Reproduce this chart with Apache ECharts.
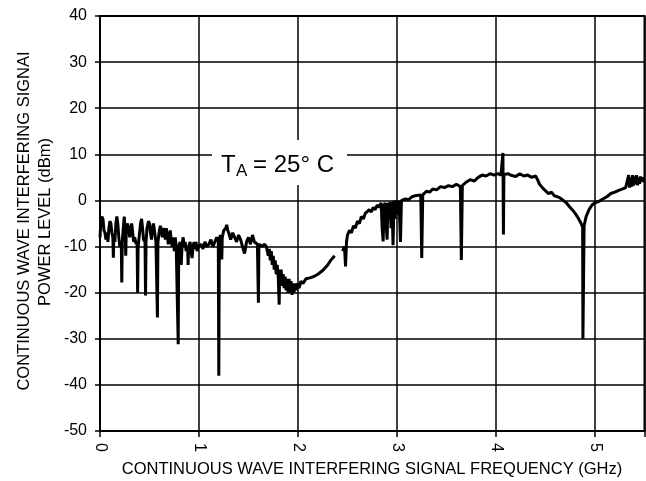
<!DOCTYPE html>
<html>
<head>
<meta charset="utf-8">
<script src="https://cdn.jsdelivr.net/npm/echarts@6/dist/echarts.min.js"></script>
<style>
html, body { margin: 0; padding: 0; background: #fff; }
#main { width: 646px; height: 481px; }
</style>
</head>
<body>
<div id="main"></div>
<script>
//坐标轴刻度
var xTicks = [0, 1, 2, 3, 4, 5];
var yTicks = [-50, -40, -30, -20, -10, 0, 10, 20, 30, 40];

//曲线数据 [GHz, dBm]
var seg1 = [[0, -8], [0.008, -5], [0.018, -3.5], [0.03, -4], [0.04, -6.5], [0.05, -7], [0.06, -8.5], [0.07, -7], [0.08, -9], [0.09, -6],
    [0.10, -4.5], [0.11, -5], [0.12, -7], [0.13, -8], [0.135, -12.4], [0.14, -8], [0.15, -9], [0.16, -5], [0.17, -3.5], [0.18, -5],
    [0.19, -8], [0.20, -10], [0.215, -9], [0.22, -17.8], [0.225, -9], [0.235, -6], [0.245, -3.5], [0.255, -7], [0.26, -12], [0.265, -7],
    [0.275, -5], [0.29, -6], [0.30, -8], [0.31, -6], [0.32, -5], [0.33, -7], [0.34, -9], [0.35, -8], [0.365, -9.5], [0.375, -9],
    [0.38, -20], [0.385, -10], [0.40, -7], [0.41, -5], [0.42, -4], [0.43, -6], [0.44, -8.5], [0.455, -9], [0.46, -20.6], [0.465, -9],
    [0.475, -6], [0.49, -4.5], [0.50, -5], [0.51, -7], [0.52, -8.5], [0.53, -6], [0.54, -5], [0.55, -6.5], [0.565, -9], [0.575, -9],
    [0.58, -25.4], [0.585, -9], [0.60, -6.5], [0.61, -5.5], [0.62, -6.5], [0.63, -8], [0.64, -6], [0.65, -7], [0.66, -8.5], [0.67, -6],
    [0.68, -7.5], [0.69, -9.5], [0.70, -8], [0.71, -6.5], [0.72, -9], [0.73, -10], [0.74, -8], [0.75, -11], [0.76, -8], [0.77, -10],
    [0.785, -10], [0.79, -31.2], [0.795, -10], [0.81, -9], [0.82, -14], [0.83, -9.5], [0.84, -8], [0.85, -10], [0.86, -9], [0.87, -11],
    [0.885, -10], [0.89, -14], [0.895, -10], [0.91, -9], [0.92, -11], [0.93, -12.5], [0.94, -10], [0.95, -9], [0.96, -10.5], [0.97, -9],
    [0.98, -11], [0.99, -10]];
var seg2 = [[1.00, -10], [1.02, -9.5], [1.04, -10.5], [1.06, -9], [1.08, -10], [1.10, -9.5], [1.12, -8.5], [1.14, -10], [1.16, -9], [1.18, -8],
    [1.195, -9], [1.20, -38], [1.205, -9], [1.215, -7.5], [1.225, -8], [1.23, -12.8], [1.235, -8], [1.25, -6.5], [1.27, -6], [1.28, -5.3],
    [1.29, -6.5], [1.30, -7], [1.32, -8.5], [1.34, -7], [1.36, -8], [1.38, -9], [1.40, -7.5], [1.42, -8.5], [1.44, -10], [1.46, -11.5],
    [1.48, -9], [1.50, -8], [1.52, -9.5], [1.54, -7.5], [1.56, -9], [1.59, -9.5], [1.60, -22.2], [1.605, -9.5], [1.62, -9.5], [1.64, -10],
    [1.66, -9.5], [1.68, -10], [1.70, -12], [1.71, -10.5], [1.72, -13], [1.73, -11], [1.74, -14], [1.75, -12], [1.76, -15], [1.77, -13],
    [1.78, -16], [1.79, -14], [1.80, -16.5], [1.81, -22.6], [1.815, -15], [1.82, -17.5], [1.83, -15], [1.84, -18.5], [1.85, -16], [1.86, -19],
    [1.87, -16.5], [1.88, -19.5], [1.89, -17], [1.90, -20], [1.91, -17], [1.92, -20], [1.93, -17.5], [1.94, -20.5], [1.95, -18], [1.96, -20],
    [1.97, -18], [1.98, -19.5], [1.99, -18], [2.01, -19], [2.03, -17.5], [2.05, -18], [2.08, -17], [2.12, -16.8], [2.16, -16.5], [2.20, -16],
    [2.25, -15.2], [2.30, -14], [2.33, -13], [2.37, -12]];
var seg3 = [[2.45, -11], [2.47, -10], [2.48, -14.3], [2.49, -9], [2.50, -7.5], [2.52, -6.5], [2.54, -7], [2.56, -5.5], [2.58, -6], [2.60, -4.5],
    [2.62, -5], [2.64, -3.5], [2.66, -4], [2.68, -2.8], [2.70, -3], [2.72, -2], [2.74, -2.5], [2.76, -1.5], [2.78, -2], [2.80, -1],
    [2.82, -1.5], [2.84, -0.5], [2.85, -6], [2.86, -8.9], [2.87, -1], [2.88, -0.5], [2.89, -5], [2.90, -8.5], [2.91, -0.5], [2.92, -4],
    [2.93, -0.3], [2.94, -6], [2.95, -0.3], [2.96, -9.7], [2.97, 0], [2.98, -4], [2.99, 0], [3.01, -3], [3.02, 0], [3.035, -9],
    [3.045, 0], [3.08, 0.3], [3.10, 0.5], [3.12, 0.2], [3.15, 0.8], [3.18, 1], [3.20, 0.8], [3.24, 1.2], [3.25, -12.5], [3.26, 1.2],
    [3.30, 2], [3.33, 1.8], [3.36, 2.5], [3.40, 2.3], [3.44, 3], [3.48, 2.8], [3.52, 3.2], [3.56, 3], [3.60, 3.5], [3.64, 3]];
var seg4 = [[3.65, -12.9], [3.66, 3.2], [3.70, 4], [3.74, 4.5], [3.78, 4.2], [3.82, 5], [3.86, 5.5], [3.90, 5.3], [3.94, 5.8], [3.98, 5.5],
    [4.02, 5.8], [4.05, 5.5], [4.07, 10.3], [4.075, -7.4], [4.08, 5.6], [4.12, 5.8], [4.16, 5.4], [4.20, 5.2], [4.24, 5.8], [4.28, 5.3],
    [4.32, 5.5], [4.36, 5], [4.40, 5.3], [4.42, 4.5], [4.44, 3.5], [4.46, 3], [4.48, 2.5], [4.50, 2.3], [4.53, 1.5], [4.56, 1.8],
    [4.59, 1], [4.62, 0.8], [4.65, 0.5], [4.68, 0], [4.71, -0.5], [4.74, -1.3], [4.77, -2], [4.80, -2.8], [4.83, -3.8], [4.86, -5],
    [4.875, -5.8], [4.878, -30], [4.886, -30], [4.89, -5.5], [4.91, -3.5], [4.94, -2], [4.97, -1], [5.00, -0.5], [5.04, -0.2], [5.08, 0.3],
    [5.12, 0.8], [5.16, 1.5], [5.20, 1.8], [5.24, 2.2], [5.28, 2.5], [5.31, 2.8], [5.33, 3], [5.34, 5.5], [5.35, 2.8], [5.36, 5],
    [5.37, 3], [5.38, 5.5], [5.39, 3.2], [5.40, 5.2], [5.41, 3.5], [5.42, 5.5], [5.43, 3.3], [5.44, 5], [5.45, 3.6], [5.46, 5.2],
    [5.47, 4], [5.48, 5], [5.49, 4.2], [5.50, 4.3]];

var fontName = 'Liberation Sans, Arial, sans-serif';

//拼接曲线，2.4GHz附近断开
function getTrace() {
    var gap = [[2.41, null]];
    return seg1.concat(seg2, gap, seg3, seg4);
}

//文字元素
function textEl(text, x, y, size, rotate) {
    return {
        type: 'text', z: 4, x: x, y: y, rotation: rotate || 0,
        style: {
            text: text, font: size + 'px ' + fontName, fill: '#000',
            textAlign: 'center', align: 'center', textVerticalAlign: 'middle', verticalAlign: 'middle'
        }
    };
}

function initChart() {
    var myChart = echarts.init(document.getElementById('main'));
    var option = {
        animation: false,
        backgroundColor: '#fff',
        grid: {
            left: 100,
            right: 1.5,
            top: 16,
            bottom: 50,
            show: true,
            borderColor: '#000',
            borderWidth: 2
        },
        xAxis: {
            type: 'value',
            min: xTicks[0],
            max: 5.5,
            interval: 1,
            axisLine: { show: true, onZero: false, lineStyle: { color: '#000', width: 2 } },
            axisTick: { show: true, length: 6, lineStyle: { color: '#000', width: 1.5 } },
            splitLine: { show: true, lineStyle: { color: '#000', width: 1.5 } },
            axisLabel: {
                rotate: -90,
                margin: 12,
                color: '#000',
                fontSize: 16,
                fontFamily: fontName,
                formatter: function(v) {
                    return xTicks.indexOf(v) >= 0 ? String(v) : '';
                }
            }
        },
        yAxis: {
            type: 'value',
            min: yTicks[0],
            max: yTicks[yTicks.length - 1],
            interval: 10,
            axisLine: { show: true, lineStyle: { color: '#000', width: 2 } },
            axisTick: { show: true, length: 5, lineStyle: { color: '#000', width: 1.5 } },
            splitLine: { show: true, lineStyle: { color: '#000', width: 1.5 } },
            axisLabel: { margin: 13, color: '#000', fontSize: 16, fontFamily: fontName }
        },
        graphic: [{
            type: 'rect',
            z: 2,
            shape: { x: 212, y: 140, width: 135, height: 45 },
            style: { fill: '#fff' }
        }, {
            type: 'text', z: 4, x: 221, y: 165,
            style: { text: 'T', font: '24px ' + fontName, fill: '#000', textVerticalAlign: 'middle', verticalAlign: 'middle' }
        }, {
            type: 'text', z: 4, x: 236, y: 171,
            style: { text: 'A', font: '17px ' + fontName, fill: '#000', textVerticalAlign: 'middle', verticalAlign: 'middle' }
        }, {
            type: 'text', z: 4, x: 253, y: 165,
            style: { text: '= 25\u00b0 C', font: '24px ' + fontName, fill: '#000', textVerticalAlign: 'middle', verticalAlign: 'middle' }
        },
            textEl('CONTINUOUS WAVE INTERFERING SIGNAI', 24, 221, 16.5, Math.PI / 2),
            textEl('POWER LEVEL (dBm)', 45, 222, 16.5, Math.PI / 2),
            textEl('CONTINUOUS WAVE INTERFERING SIGNAL FREQUENCY (GHz)', 372, 469, 16.5, 0)
        ],
        series: [{
            type: 'line',
            z: 3,
            data: getTrace(),
            showSymbol: false,
            connectNulls: false,
            lineStyle: { color: '#000', width: 3 },
            itemStyle: { color: '#000' }
        }]
    };
    myChart.setOption(option);
}

initChart();
</script>
</body>
</html>
